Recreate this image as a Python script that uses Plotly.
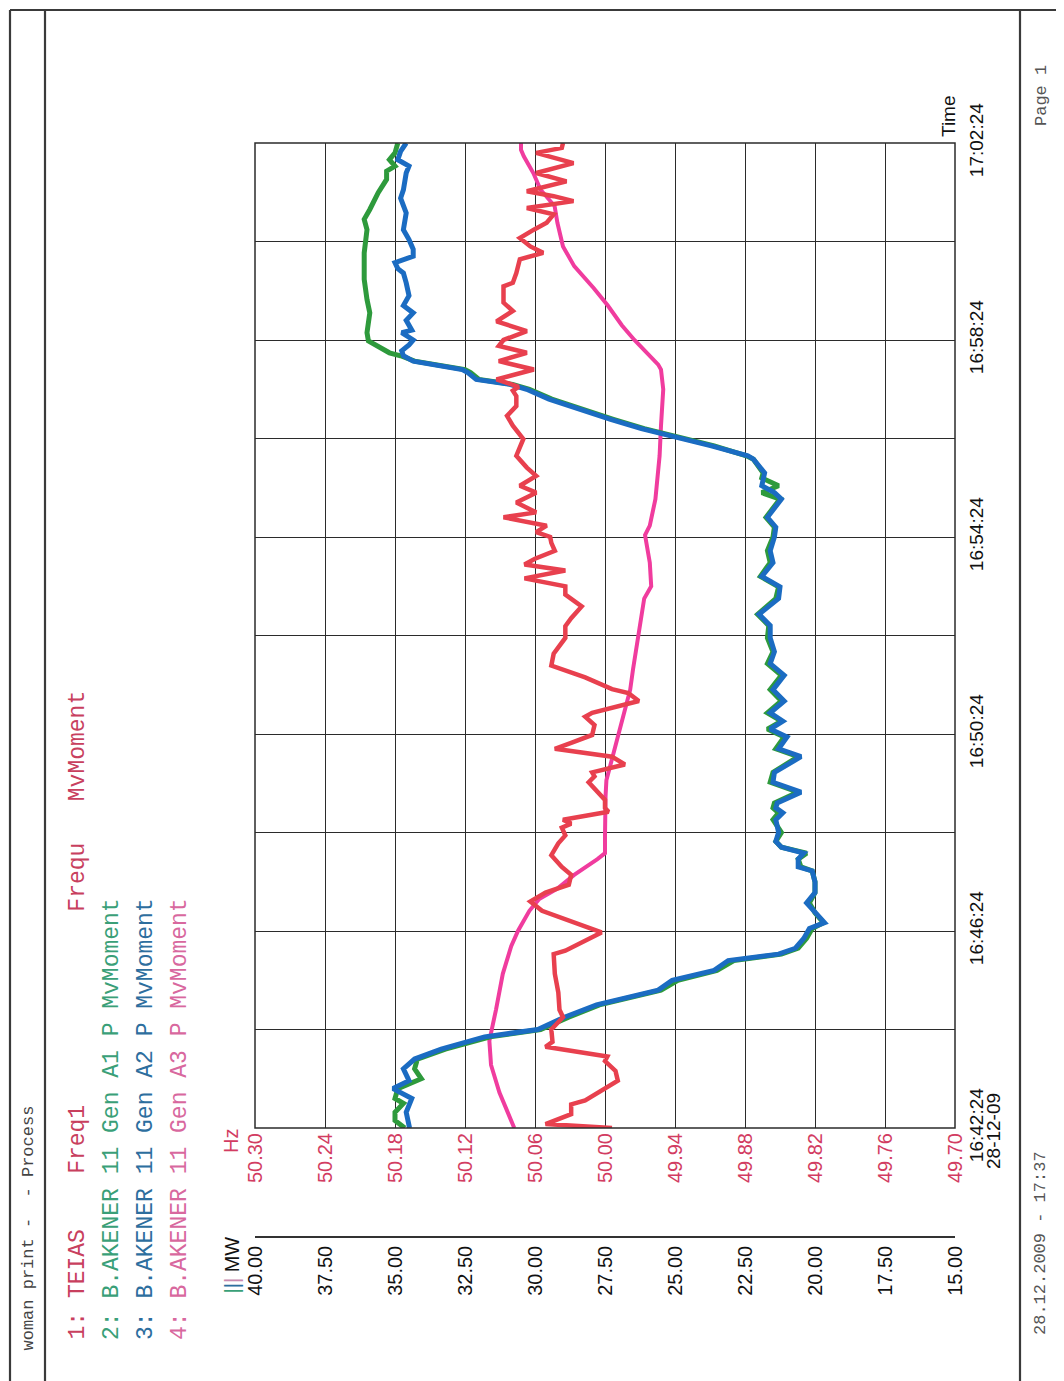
import plotly.graph_objects as go

# ---------------- data ----------------
# time in minutes after 16:42:24 (28-12-09)
time_tick_vals = [0, 2, 4, 6, 8, 10, 12, 14, 16, 18, 20]
time_tick_text = ["16:42:24", "", "16:46:24", "", "16:50:24", "", "16:54:24", "", "16:58:24", "", "17:02:24"]
mw_ticks = [40.0, 37.5, 35.0, 32.5, 30.0, 27.5, 25.0, 22.5, 20.0, 17.5, 15.0]
hz_ticks = [50.30, 50.24, 50.18, 50.12, 50.06, 50.00, 49.94, 49.88, 49.82, 49.76, 49.70]

blue_t = [0, 0.32, 0.6, 0.8, 0.96, 1.2, 1.4, 1.6, 1.85, 2.0, 2.25, 2.5, 2.8, 3.0, 3.2, 3.4, 3.53, 3.65, 3.85, 4.05,
          4.17, 4.37, 4.57, 4.78, 5.0, 5.22, 5.3, 5.46, 5.58, 5.7, 5.82, 6.0, 6.26, 6.4, 6.5, 6.6, 6.82, 7.02, 7.22, 7.54,
          7.7, 7.94, 8.1, 8.26, 8.43, 8.67, 8.9, 9.19, 9.43, 9.67, 9.95, 10.2, 10.43, 10.75, 10.99, 11.2, 11.48, 11.72,
          12.0, 12.2, 12.4, 12.77, 12.9, 13.04, 13.3, 13.58, 13.65, 13.85, 14.05, 14.2, 14.39, 14.66, 14.8, 15.0, 15.1,
          15.2, 15.34, 15.4, 15.57, 15.68, 15.78, 15.9, 16.0, 16.15, 16.2, 16.4, 16.55, 16.7, 16.9, 17.16, 17.36, 17.45,
          17.57, 17.7, 17.84, 18.04, 18.24, 18.58, 18.88, 19.05, 19.39, 19.53, 19.66, 19.83, 20.0]
blue_mw = [34.48, 34.6, 34.4, 35.07, 34.5, 34.7, 34.3, 33.35, 31.8, 29.9, 28.95, 27.8, 25.6, 25.1, 23.6, 23.1, 21.3,
           20.7, 20.4, 20.2, 19.66, 20.0, 20.3, 20.0, 20.0, 20.1, 20.6, 20.6, 20.4, 21.2, 21.4, 21.3, 21.4, 21.15, 21.4,
           21.35, 20.5, 21.5, 21.45, 20.5, 21.3, 21.0, 21.6, 21.15, 21.6, 21.1, 21.5, 21.1, 21.6, 21.45, 21.6, 21.6, 22.0,
           21.3, 21.25, 21.9, 21.5, 21.6, 21.45, 21.4, 21.7, 21.2, 21.45, 21.9, 21.8, 22.2, 22.4, 23.7, 25.2, 26.2, 27.3,
           28.75, 29.5, 30.3, 30.9, 32.1, 32.4, 32.6, 34.35, 34.7, 34.76, 34.5, 34.35, 34.76, 34.4, 34.6, 34.35, 34.7,
           34.5, 34.6, 34.7, 34.9, 35.0, 34.35, 34.35, 34.5, 34.7, 34.6, 34.8, 34.7, 34.6, 34.5, 34.9, 34.8, 34.6]

green_t = [0, 0.15, 0.32, 0.5, 0.6, 0.8, 1.0, 1.2, 1.4, 1.6, 1.85, 2.0, 2.25, 2.5, 2.8, 3.0, 3.2, 3.4, 3.53, 3.65,
           3.85, 4.05, 4.17, 4.37, 4.57, 4.78, 5.0, 5.22, 5.3, 5.46, 5.58, 5.7, 5.82, 6.0, 6.26, 6.4, 6.5, 6.6, 6.82,
           7.02, 7.22, 7.54, 7.7, 7.94, 8.1, 8.26, 8.43, 8.67, 8.9, 9.19, 9.43, 9.67, 9.95, 10.2, 10.43, 10.75, 10.99,
           11.2, 11.48, 11.72, 12.0, 12.2, 12.4, 12.77, 12.9, 13.04, 13.2, 13.3, 13.58, 13.65, 13.85, 14.05, 14.2, 14.39,
           14.66, 14.8, 15.0, 15.1, 15.2, 15.34, 15.4, 15.57, 15.68, 15.74, 15.98, 16.15, 16.55, 16.82, 17.23, 17.77,
           18.24, 18.45, 18.65, 18.99, 19.26, 19.43, 19.53, 19.66, 19.8, 20.0]
green_mw = [34.65, 35.0, 35.0, 34.7, 35.0, 34.9, 34.06, 34.3, 34.2, 33.2, 31.6, 29.8, 28.8, 27.7, 25.5, 24.9, 23.5,
            22.9, 21.2, 20.6, 20.3, 20.1, 19.7, 20.0, 20.2, 20.0, 20.0, 20.1, 20.5, 20.6, 20.3, 21.2, 21.4, 21.2, 21.5,
            21.3, 21.5, 21.45, 20.6, 21.6, 21.5, 20.6, 21.4, 21.1, 21.7, 21.2, 21.7, 21.2, 21.6, 21.2, 21.7, 21.5, 21.7,
            21.65, 22.05, 21.4, 21.3, 21.95, 21.6, 21.7, 21.5, 21.45, 21.75, 21.25, 21.9, 21.3, 21.9, 21.85, 22.2, 22.45,
            23.6, 25.1, 26.1, 27.2, 28.6, 29.4, 30.2, 30.8, 32.0, 32.3, 32.5, 34.3, 34.8, 35.2, 35.95, 36.0, 35.9, 36.0,
            36.1, 36.1, 36.0, 36.1, 35.9, 35.6, 35.3, 35.3, 35.0, 35.2, 35.0, 34.9]

pink_t = [0, 0.72, 1.28, 1.77, 2.41, 3.13, 3.69, 4.01, 4.41, 4.65, 4.86, 5.14, 5.46, 5.58, 5.94, 6.34, 6.74, 7.06,
          7.38, 7.87, 8.35, 8.9, 9.31, 9.95, 10.75, 11.0, 11.48, 12.04, 12.23, 12.77, 13.65, 14.26, 15.0, 15.4, 15.5,
          16.0, 16.3, 16.7, 17.05, 17.5, 17.9, 18.38, 18.72, 19.05, 19.39, 19.73, 19.86, 20.0]
pink_mw = [30.74, 31.27, 31.57, 31.63, 31.39, 31.15, 30.85, 30.6, 30.2, 29.85, 29.2, 28.6, 27.77, 27.5, 27.5, 27.5,
           27.48, 27.45, 27.3, 27.05, 26.85, 26.6, 26.5, 26.32, 26.1, 25.85, 25.9, 26.07, 25.9, 25.7, 25.55, 25.5, 25.42,
           25.5, 25.6, 26.45, 26.9, 27.4, 27.9, 28.6, 29.0, 29.2, 29.3, 29.8, 30.06, 30.4, 30.5, 30.5]

red_t = [0, 0.08, 0.28, 0.48, 0.56, 0.96, 1.16, 1.36, 1.45, 1.65, 1.75, 2.0, 2.25, 2.4, 2.75, 3.13, 3.53, 3.6, 3.97,
         4.41, 4.6, 4.78, 4.94, 5.14, 5.3, 5.54, 5.78, 5.94, 6.1, 6.18, 6.26, 6.42, 6.5, 6.66, 7.02, 7.14, 7.22, 7.38,
         7.54, 7.7, 7.82, 7.98, 8.18, 8.35, 8.43, 8.67, 8.83, 8.91, 9.15, 9.39, 9.63, 9.95, 10.19, 10.35, 10.59, 10.83,
         11.0, 11.16, 11.32, 11.44, 11.56, 11.72, 11.88, 12.0, 12.1, 12.23, 12.4, 12.5, 12.7, 12.9, 13.04, 13.24, 13.41,
         13.65, 13.99, 14.26, 14.46, 14.66, 14.86, 14.97, 15.05, 15.2, 15.4, 15.57, 15.74, 15.88, 16.0, 16.18, 16.38,
         16.59, 16.76, 16.96, 17.09, 17.16, 17.36, 17.64, 17.77, 17.9, 18.07, 18.24, 18.38, 18.55, 18.68, 18.82, 18.92,
         19.02, 19.22, 19.39, 19.59, 19.8, 19.9, 20.0]
red_hz = [49.994, 50.051, 50.029, 50.029, 50.017, 49.989, 49.991, 50.0, 49.998, 50.051, 50.045, 50.046, 50.036, 50.039,
          50.04, 50.043, 50.044, 50.034, 50.003, 50.054, 50.064, 50.051, 50.031, 50.029, 50.037, 50.046, 50.04, 50.034,
          50.037, 50.029, 50.036, 49.997, 50.0, 50.0, 50.014, 50.009, 50.011, 49.983, 49.994, 50.043, 50.029, 50.011,
          50.009, 50.017, 50.011, 49.971, 49.98, 49.994, 50.017, 50.046, 50.044, 50.034, 50.034, 50.029, 50.02, 50.034,
          50.034, 50.069, 50.034, 50.069, 50.06, 50.043, 50.046, 50.047, 50.059, 50.05, 50.087, 50.059, 50.076, 50.059,
          50.073, 50.059, 50.067, 50.076, 50.07, 50.079, 50.084, 50.076, 50.076, 50.079, 50.074, 50.093, 50.061, 50.091,
          50.067, 50.091, 50.087, 50.067, 50.093, 50.079, 50.087, 50.087, 50.087, 50.079, 50.076, 50.073, 50.053, 50.064,
          50.073, 50.061, 50.05, 50.044, 50.067, 50.027, 50.044, 50.067, 50.033, 50.059, 50.027, 50.059, 50.037, 50.036]

# ---------------- layout helpers ----------------
# page body adds an 8 px margin, so the figure is laid out in window pixels minus 8
OFF = 8
W, H = 1064 - OFF, 1381 - OFF
ML = 255 - OFF          # plot left edge at window x=255
MT = 143 - OFF          # plot top at window y=143
MR = W - (955 - OFF)    # plot right edge at window x=955
MB = H - (1237 - OFF)   # MW axis line at window y=1237
PW = W - ML - MR
PH = H - MT - MB


def px(x):
    return (x - OFF - ML) / PW


def py(y):
    return (H - MB - (y - OFF)) / PH


SANS = "Liberation Sans, Arial, sans-serif"
MONO = "Liberation Mono, Courier New, monospace"
GRID = "#2b2b2b"
RED_TXT = "#d23c62"

fig = go.Figure()
fig.add_trace(go.Scatter(x=red_hz, y=red_t, xaxis="x2", yaxis="y", mode="lines",
                         line=dict(color="#e8404e", width=4.5), name="TEIAS Freq1"))
fig.add_trace(go.Scatter(x=pink_mw, y=pink_t, xaxis="x", yaxis="y", mode="lines",
                         line=dict(color="#f03c9e", width=4), name="Gen A3"))
fig.add_trace(go.Scatter(x=green_mw, y=green_t, xaxis="x", yaxis="y", mode="lines",
                         line=dict(color="#2e9a3c", width=5), name="Gen A1"))
fig.add_trace(go.Scatter(x=blue_mw, y=blue_t, xaxis="x", yaxis="y", mode="lines",
                         line=dict(color="#1b6cc2", width=5), name="Gen A2"))

fig.update_layout(
    width=W, height=H,
    margin=dict(l=ML, r=MR, t=MT, b=MB, pad=0),
    paper_bgcolor="white", plot_bgcolor="white",
    showlegend=False,
    xaxis=dict(range=[40, 15], anchor="free", position=0, side="bottom",
               tickvals=mw_ticks, ticktext=["%.2f" % v for v in mw_ticks], tickangle=-90,
               tickfont=dict(family=SANS, size=20, color="#111"),
               showline=True, linecolor="#333", linewidth=1.5,
               showgrid=True, gridcolor=GRID, gridwidth=1.3, zeroline=False, ticks=""),
    xaxis2=dict(range=[50.30, 49.70], overlaying="x", anchor="y", side="bottom",
                tickvals=hz_ticks, ticktext=["%.2f" % v for v in hz_ticks], tickangle=-90,
                tickfont=dict(family=SANS, size=20, color=RED_TXT),
                showline=False, showgrid=False, zeroline=False, ticks=""),
    yaxis=dict(domain=[py(1128), 1], range=[0, 20], side="right", anchor="x",
               tickvals=time_tick_vals, ticktext=time_tick_text, tickangle=-90,
               tickfont=dict(family=SANS, size=19, color="#111"),
               showgrid=True, gridcolor=GRID, gridwidth=1.3, zeroline=False,
               ticks="outside", ticklen=4, tickcolor="rgba(0,0,0,0)"),
)

# plot border
fig.add_shape(type="rect", xref="x domain", yref="y domain", x0=0, x1=1, y0=0, y1=1,
              line=dict(color="#2b2b2b", width=1.5))

# page frame (window pixel positions)
frame = [(10, 10, 10, 1381), (45, 10, 45, 1381), (1020, 10, 1020, 1381), (10, 10, 1064, 10)]
for x0, y0, x1, y1 in frame:
    fig.add_shape(type="line", xref="paper", yref="paper",
                  x0=px(x0), y0=py(y0), x1=px(x1), y1=py(y1),
                  line=dict(color="#3a3a3a", width=2.2))


def ann(text, x, y, size, color, family, xanchor="center", yanchor="middle"):
    fig.add_annotation(text=text, x=px(x), y=py(y), xref="paper", yref="paper",
                       showarrow=False, textangle=-90, xanchor=xanchor, yanchor=yanchor,
                       font=dict(family=family, size=size, color=color))


NB = "\u00a0"
ann("woman" + NB + "print" + NB + "-" + NB * 2 + "-" + NB + "Process", 28, 1353, 17, "#444", MONO, yanchor="bottom")
row1 = "1:" + NB + "TEIAS" + NB * 4 + "Freq1" + NB * 14 + "Frequ" + NB * 3 + "MvMoment"
ann(row1, 77, 1342, 23, "#c8405e", MONO, yanchor="bottom")
ann(("2: B.AKENER 11 Gen A1 P MvMoment").replace(" ", NB), 112, 1342, 23, "#3a9f78", MONO, yanchor="bottom")
ann(("3: B.AKENER 11 Gen A2 P MvMoment").replace(" ", NB), 146, 1342, 23, "#2d6e9e", MONO, yanchor="bottom")
ann(("4: B.AKENER 11 Gen A3 P MvMoment").replace(" ", NB), 180, 1342, 23, "#d8689e", MONO, yanchor="bottom")

ann("Hz", 231, 1141, 20, RED_TXT, SANS)
ann("<span style='color:#3a9f78'>|</span><span style='color:#2d6e9e'>|</span>"
    "<span style='color:#c98ab0'>|</span>" + NB + "MW", 231, 1296, 20, "#111", SANS, yanchor="bottom")
ann("28-12-09", 993, 1131, 19, "#111", SANS)
ann("Time", 948, 116, 19, "#111", SANS)
ann("28.12.2009" + NB + "-" + NB + "17:37", 1040, 1337, 17, "#555", MONO, yanchor="bottom")
ann("Page" + NB + "1", 1042, 96, 17, "#555", MONO)

fig.write_html("out.html")
